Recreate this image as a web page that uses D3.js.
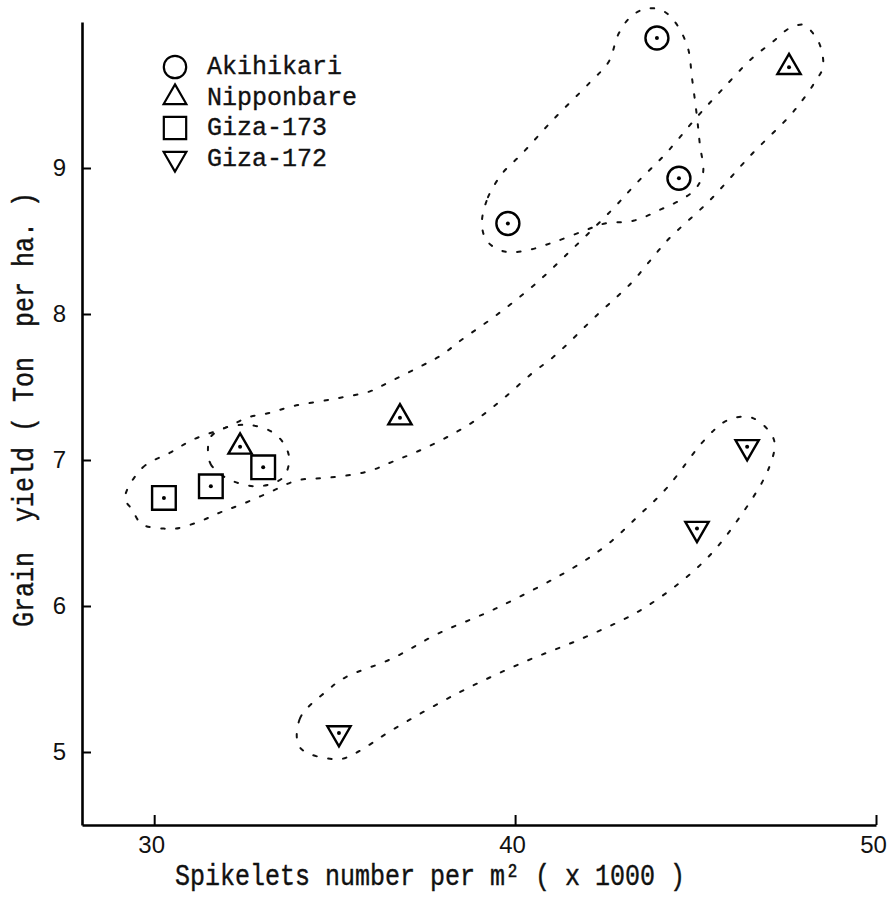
<!DOCTYPE html>
<html>
<head>
<meta charset="utf-8">
<script src="https://cdn.jsdelivr.net/npm/d3@7/dist/d3.min.js"></script>
<style>
  body { margin: 0; background: #fff; }
  svg { display: block; }
</style>
</head>
<body>
<svg id="chart" width="893" height="898"></svg>
<script>
// ---- data -------------------------------------------------------------
const varieties = ["Akihikari", "Nipponbare", "Giza-173", "Giza-172"];

// spikelets number per m2 (x 1000) and grain yield (t/ha) for each variety
const akihikariSpikelets  = [43.93, 44.54, 39.80];
const akihikariYield      = [9.89, 8.93, 8.62];
const nipponbareSpikelets = [47.59, 36.81, 32.38];
const nipponbareYield     = [9.69, 7.29, 7.09];
const giza173Spikelets    = [30.27, 31.57, 33.02];
const giza173Yield        = [6.74, 6.82, 6.95];
const giza172Spikelets    = [35.12, 45.04, 46.43];
const giza172Yield        = [5.13, 6.53, 7.09];

const xTicks = [30, 40, 50];
const yTicks = [5, 6, 7, 8, 9];

// hand-drawn grouping outlines, vertices in data units [spikelets, yield]
const akihikariOutline = [
  [39.08,8.62],[39.25,8.80],[39.67,8.97],[40.16,9.09],[41.05,9.33],[42.05,9.58],
  [42.60,9.73],[42.85,9.91],[43.18,10.03],[43.60,10.09],[44.07,10.08],[44.46,9.99],
  [44.79,9.82],[44.90,9.62],[45.04,9.35],[45.12,9.16],[45.21,8.97],[45.01,8.86],
  [44.65,8.79],[44.07,8.72],[43.30,8.64],[42.49,8.62],[41.91,8.57],[41.05,8.49],
  [40.22,8.43],[39.67,8.43],[39.22,8.50]
];
const nipponbareOutline = [
  [29.19,6.74],[29.69,6.95],[30.44,7.05],[31.08,7.14],[32.07,7.23],[32.57,7.29],
  [33.15,7.32],[33.87,7.37],[35.01,7.42],[35.98,7.47],[36.48,7.53],[37.45,7.65],
  [37.97,7.72],[38.50,7.82],[39.47,7.99],[40.58,8.21],[41.69,8.47],[42.71,8.72],
  [43.38,8.90],[44.18,9.10],[45.04,9.35],[45.71,9.53],[46.56,9.75],[47.12,9.86],
  [47.62,9.96],[48.01,9.98],[48.23,9.93],[48.45,9.84],[48.53,9.69],[48.31,9.59],
  [48.01,9.48],[47.62,9.36],[46.54,9.09],[45.40,8.78],[44.24,8.51],[43.79,8.38],
  [43.21,8.21],[42.30,8.00],[41.08,7.71],[40.50,7.60],[39.67,7.42],[38.89,7.27],
  [38.14,7.16],[37.31,7.06],[36.62,6.99],[35.90,6.92],[34.87,6.88],[33.96,6.86],
  [33.21,6.78],[32.46,6.70],[31.82,6.64],[31.27,6.58],[30.60,6.53],[30.27,6.53],
  [29.66,6.56],[29.39,6.66]
];
const overlapOutline = [
  [31.49,7.08],[31.57,6.97],[32.05,6.87],[32.88,6.82],[33.57,6.88],[33.74,7.01],
  [33.57,7.12],[33.21,7.20],[32.60,7.24],[31.96,7.22],[31.57,7.16]
];
const giza172Outline = [
  [34.04,5.03],[34.04,5.23],[34.79,5.42],[35.29,5.51],[36.59,5.64],[37.86,5.81],
  [39.44,5.98],[41.60,6.26],[42.55,6.42],[43.43,6.62],[44.21,6.81],[45.26,7.14],
  [45.87,7.27],[46.56,7.29],[47.17,7.14],[47.04,6.95],[46.20,6.60],[45.21,6.30],
  [43.60,5.99],[41.97,5.79],[40.19,5.61],[38.39,5.40],[36.59,5.15],[35.56,4.99],
  [35.09,4.95]
];

// ---- layout -----------------------------------------------------------
const svg = d3.select("#chart");
const x = d3.scaleLinear().domain([28, 50]).range([82, 876]);
const y = d3.scaleLinear().domain([4.5, 10]).range([825, 22]);

const MONO = "'Liberation Mono', 'Courier New', monospace";
const SANS = "'Liberation Sans', Arial, sans-serif";

// typewriter-style text: monospace glyphs, optionally stretched in height
function typeText(parent, str, tx, ty, rot, stretch) {
  return parent.append("text")
    .attr("transform", `translate(${tx},${ty})` + (rot ? ` rotate(${rot})` : "") + ` scale(1,${stretch})`)
    .attr("font-family", MONO)
    .attr("font-size", 25)
    .attr("fill", "#111")
    .attr("stroke", "#111")
    .attr("stroke-width", 0.35)
    .style("white-space", "pre")
    .text(str);
}

// ---- grouping outlines (dotted) --------------------------------------
const outlineLine = d3.line()
  .x(d => x(d[0])).y(d => y(d[1]))
  .curve(d3.curveCatmullRomClosed.alpha(0.5));

svg.append("g")
  .attr("fill", "none")
  .attr("stroke", "#111")
  .attr("stroke-width", 2)
  .attr("stroke-linecap", "round")
  .attr("stroke-dasharray", "3.5,11.5")
  .selectAll("path")
  .data([akihikariOutline, nipponbareOutline, overlapOutline, giza172Outline])
  .join("path")
  .attr("d", outlineLine);

// ---- axes -------------------------------------------------------------
svg.append("g")
  .attr("transform", "translate(0,825)")
  .call(d3.axisBottom(x).tickValues(xTicks).tickFormat(d3.format("d"))
    .tickSizeInner(-10).tickSizeOuter(0).tickPadding(11))
  .call(g => {
    g.select(".domain").attr("stroke", "#000").attr("stroke-width", 2.6);
    g.selectAll(".tick line").attr("stroke", "#000").attr("stroke-width", 2);
    g.selectAll(".tick text").attr("font-family", SANS).attr("font-size", 24)
      .attr("fill", "#111").attr("dx", -3);
  });

svg.append("g")
  .attr("transform", "translate(82,0)")
  .call(d3.axisLeft(y).tickValues(yTicks).tickFormat(d3.format("d"))
    .tickSizeInner(-9).tickSizeOuter(0).tickPadding(16))
  .call(g => {
    g.select(".domain").attr("stroke", "#000").attr("stroke-width", 2.6);
    g.selectAll(".tick line").attr("stroke", "#000").attr("stroke-width", 2);
    g.selectAll(".tick text").attr("font-family", SANS).attr("font-size", 24)
      .attr("fill", "#111");
  });

// axis titles
typeText(svg, "Spikelets number per m\u00b2 ( x 1000 )", 175, 885, 0, 1.2);
typeText(svg, "Grain  yield ( Ton  per ha. )", 33, 627, -90, 1.2);

// ---- markers -----------------------------------------------------------
const series = [
  { name: varieties[0], xs: akihikariSpikelets,  ys: akihikariYield,  type: d3.symbolCircle,   size: 415, rot: 0 },
  { name: varieties[1], xs: nipponbareSpikelets, ys: nipponbareYield, type: d3.symbolTriangle, size: 235, rot: 0 },
  { name: varieties[2], xs: giza173Spikelets,    ys: giza173Yield,    type: d3.symbolSquare,   size: 560, rot: 0 },
  { name: varieties[3], xs: giza172Spikelets,    ys: giza172Yield,    type: d3.symbolTriangle, size: 235, rot: 180 }
];

const markers = svg.append("g");
series.forEach(s => {
  const pts = s.xs.map((v, i) => ({ x: v, y: s.ys[i] }));
  const g = markers.append("g").selectAll("g").data(pts).join("g")
    .attr("transform", d => `translate(${x(d.x)},${y(d.y)})`);
  g.append("path")
    .attr("d", d3.symbol().type(s.type).size(s.size))
    .attr("transform", `rotate(${s.rot})`)
    .attr("fill", "none")
    .attr("stroke", "#000")
    .attr("stroke-width", 2.4);
  g.append("circle").attr("r", 2).attr("fill", "#000");
});

// ---- legend -----------------------------------------------------------
const legend = svg.append("g");
series.forEach((s, i) => {
  const cy = 67 + i * 30.5;
  legend.append("path")
    .attr("transform", `translate(175,${cy}) rotate(${s.rot})`)
    .attr("d", d3.symbol().type(s.type).size(s.type === d3.symbolSquare ? 500 : s.size * 0.95))
    .attr("fill", "none")
    .attr("stroke", "#000")
    .attr("stroke-width", 2.2);
  typeText(legend, s.name, 207, cy + 7, 0, 1.05);
});
</script>
</body>
</html>
